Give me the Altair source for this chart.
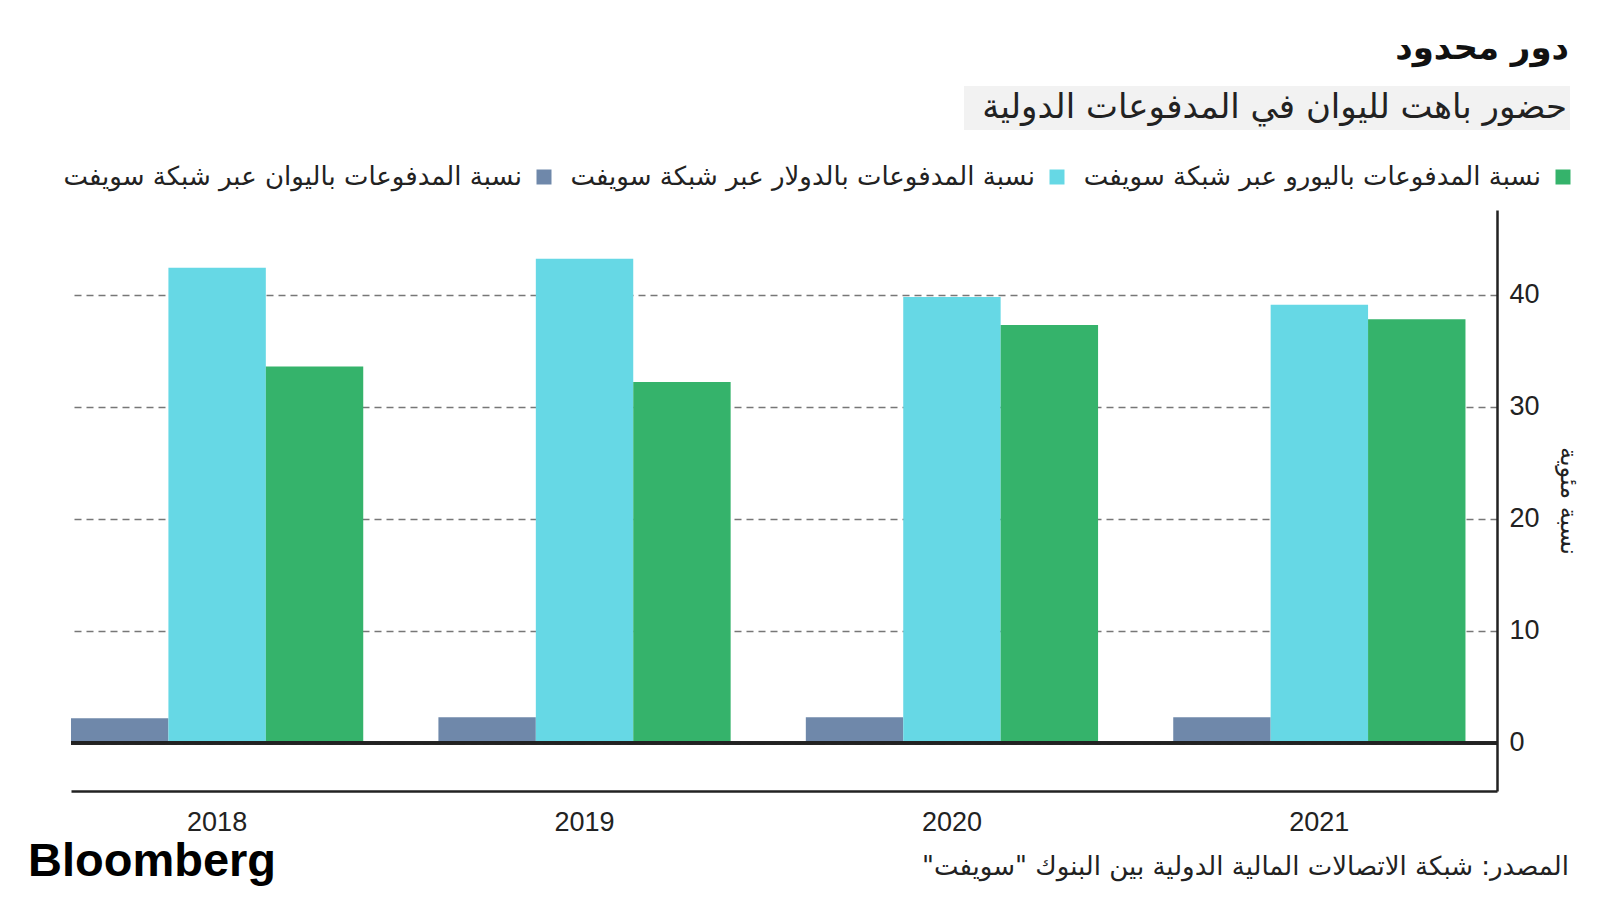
import altair as alt
import pandas as pd

# ---------------- data ----------------
years = ["2018", "2019", "2020", "2021"]
yuan_share = [2.2, 2.3, 2.3, 2.3]
dollar_share = [42.4, 43.2, 39.8, 39.1]
euro_share = [33.6, 32.2, 37.3, 37.8]

series_yuan = "نسبة المدفوعات باليوان عبر شبكة سويفت"
series_dollar = "نسبة المدفوعات بالدولار عبر شبكة سويفت"
series_euro = "نسبة المدفوعات باليورو عبر شبكة سويفت"
series_order = [series_yuan, series_dollar, series_euro]
series_colors = ["#6f88aa", "#66d8e5", "#35b36b"]

title_text = "دور محدود"
subtitle_text = "حضور باهت لليوان في المدفوعات الدولية"
y_title = "نسبة مئوية"
source_text = "\u200fالمصدر: شبكة الاتصالات المالية الدولية بين البنوك \"سويفت\"\u200f"
brand_text = "Bloomberg"
y_ticks = [0, 10, 20, 30, 40]
y_domain = [-4.29, 47.56]

rows = []
for i, yr in enumerate(years):
    rows.append({"year": yr, "series": series_yuan, "value": yuan_share[i]})
    rows.append({"year": yr, "series": series_dollar, "value": dollar_share[i]})
    rows.append({"year": yr, "series": series_euro, "value": euro_share[i]})
df = pd.DataFrame(rows)

W, H = 1426, 581
ARABIC = "DejaVu Sans"
LATIN = "Liberation Sans"
INK = "#222222"

# ---------------- bars ----------------
bars = alt.Chart(df).mark_bar(strokeWidth=0).encode(
    x=alt.X(
        "year:N",
        sort=years,
        scale=alt.Scale(paddingInner=0.2046, paddingOuter=0.0429, align=0),
        axis=alt.Axis(
            title=None, labelAngle=0, ticks=False, grid=False,
            domain=True, domainColor=INK, domainWidth=2.5,
            labelPadding=18, labelFont=LATIN, labelFontSize=27, labelColor=INK,
        ),
    ),
    xOffset=alt.XOffset("series:N", sort=series_order,
                        scale=alt.Scale(paddingInner=0, paddingOuter=0)),
    y=alt.Y(
        "value:Q",
        scale=alt.Scale(domain=y_domain, nice=False, zero=False),
        axis=alt.Axis(
            orient="right", values=y_ticks, ticks=False,
            domain=True, domainColor=INK, domainWidth=2.5,
            grid=True, gridColor="#777777", gridDash=[7, 5], gridWidth=1.3,
            labelPadding=12, labelFont=LATIN, labelFontSize=27, labelColor=INK,
            title=y_title, titleFont=ARABIC, titleFontSize=24,
            titleFontWeight="normal", titleColor=INK, titleAngle=90,
            titlePadding=16,
        ),
    ),
    color=alt.Color(
        "series:N",
        scale=alt.Scale(domain=series_order, range=series_colors),
        legend=alt.Legend(
            orient="none", legendX=460, legendY=-46, direction="horizontal",
            title=None, symbolType="square", symbolSize=225,
            symbolStrokeWidth=0, symbolOpacity=1,
            labelFont=ARABIC, labelFontSize=26, labelColor=INK,
            labelAlign="right", labelOffset=alt.ExprRef("-35"), labelLimit=0,
            columnPadding=18,
        ),
    ),
)

zero_rule = alt.Chart(df).mark_rule(color=INK, strokeWidth=2.5).encode(
    y=alt.datum(0)
)

# ---------------- annotations ----------------
one = pd.DataFrame({"k": [0]})

sub_bg = alt.Chart(one).mark_rect(color="#f2f2f2").encode(
    x=alt.value(893), x2=alt.value(1499), y=alt.value(-124), y2=alt.value(-80)
)

title_mark = alt.Chart(pd.DataFrame({"t": [title_text]})).mark_text(
    font=ARABIC, fontSize=34, fontWeight="bold", color="#111111",
    align="right", baseline="middle",
).encode(text="t:N", x=alt.value(1498), y=alt.value(-161))

subtitle_mark = alt.Chart(pd.DataFrame({"t": [subtitle_text]})).mark_text(
    font=ARABIC, fontSize=34, fontWeight="normal", color=INK,
    align="right", baseline="middle",
).encode(text="t:N", x=alt.value(1496), y=alt.value(-102))

source_mark = alt.Chart(pd.DataFrame({"t": [source_text]})).mark_text(
    font=ARABIC, fontSize=26, color=INK, align="right", baseline="middle",
).encode(text="t:N", x=alt.value(1498), y=alt.value(657))

brand_mark = alt.Chart(pd.DataFrame({"t": [brand_text]})).mark_text(
    font=LATIN, fontSize=47, fontWeight="bold", color="#000000",
    align="left", baseline="middle",
).encode(text="t:N", x=alt.value(-43), y=alt.value(652))

chart = alt.layer(
    sub_bg, bars, zero_rule, title_mark, subtitle_mark, source_mark, brand_mark
).properties(
    width=W, height=H,
    autosize=alt.AutoSizeParams(type="none"),
    padding={"left": 63, "top": 202, "right": 95, "bottom": 98},
    background="white",
).configure_view(stroke=None)

chart.save("out.html", embed_options={"renderer": "svg", "actions": False})
